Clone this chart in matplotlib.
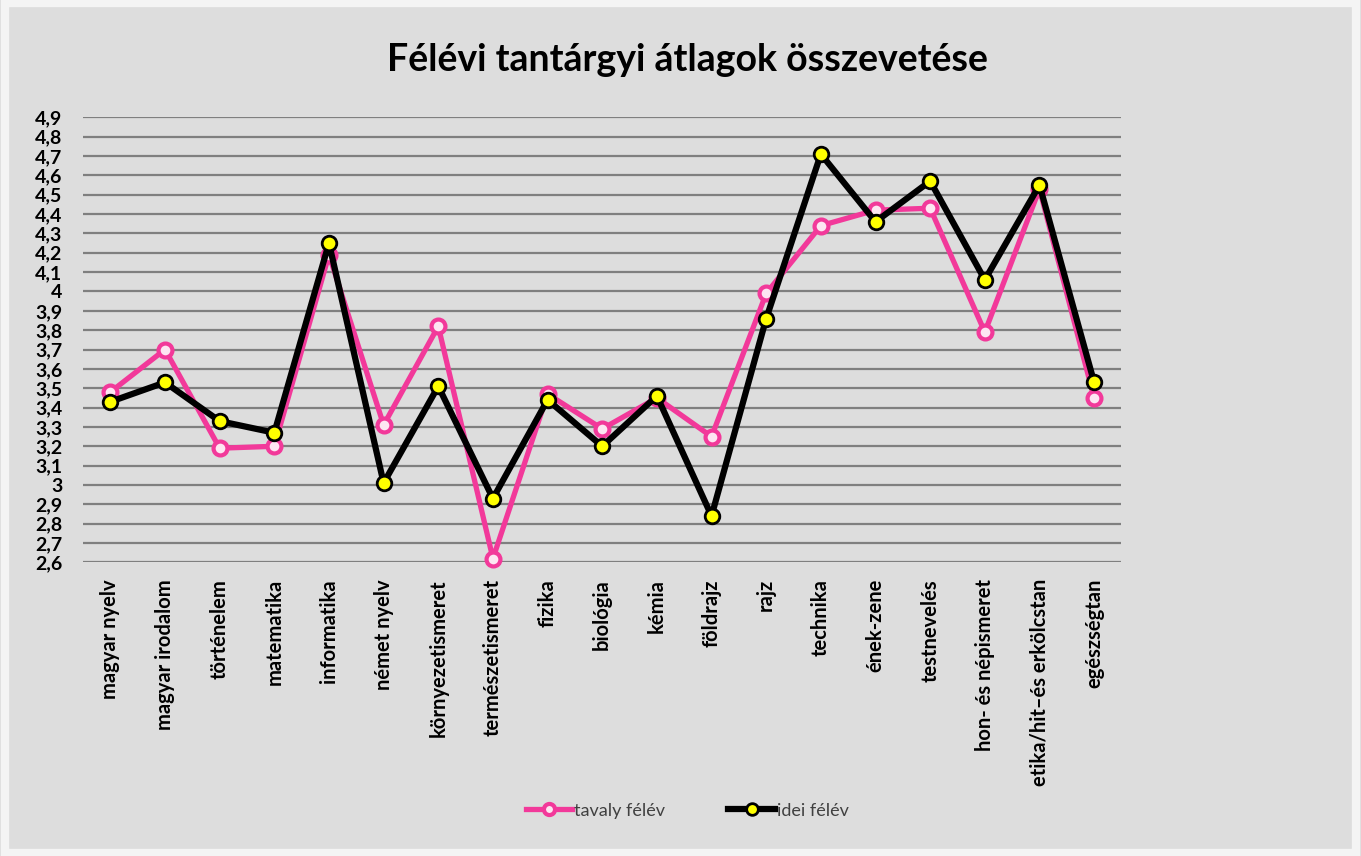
import matplotlib
matplotlib.use("Agg")
import matplotlib.pyplot as plt
import numpy as np

categories = ["magyar nyelv", "magyar irodalom", "történelem", "matematika", "informatika",
              "német nyelv", "környezetismeret", "természetismeret", "fizika", "biológia",
              "kémia", "földrajz", "rajz", "technika", "ének-zene", "testnevelés",
              "hon- és népismeret", "etika/hit–és erkölcstan", "egészségtan"]
tavaly = [3.48, 3.70, 3.19, 3.20, 4.19, 3.31, 3.82, 2.62, 3.47, 3.29,
          3.45, 3.25, 3.99, 4.34, 4.42, 4.43, 3.79, 4.53, 3.45]
idei = [3.43, 3.53, 3.33, 3.27, 4.25, 3.01, 3.51, 2.93, 3.44, 3.20,
        3.46, 2.84, 3.86, 4.71, 4.36, 4.57, 4.06, 4.55, 3.53]
yticks = [round(2.6 + 0.1 * i, 1) for i in range(24)]
ytick_labels = [("%g" % v).replace(".", ",") for v in yticks]

plt.rcParams['font.family'] = ['Lato', 'DejaVu Sans']

fig = plt.figure(figsize=(13.61, 8.56), dpi=100)
fig.patch.set_facecolor("#dddddd")
fig.add_artist(plt.Rectangle((0.004, 0.004), 0.992, 0.992, transform=fig.transFigure,
                             fill=False, edgecolor="#f4f4f4", lw=6))

ax = fig.add_axes([0.061, 0.343, 0.763, 0.52])
ax.set_facecolor("none")
x = np.arange(len(categories))
ax.set_xlim(-0.5, len(categories) - 0.5)
ax.set_ylim(2.6, 4.9)
ax.set_yticks(yticks)
ax.set_yticklabels(ytick_labels, fontsize=14, fontweight="bold")
ax.yaxis.grid(True, color="#7f7f7f", lw=1.6)
ax.set_axisbelow(True)
for s in ax.spines.values():
    s.set_visible(False)
ax.tick_params(axis="y", length=0, pad=15)
ax.tick_params(axis="x", length=0, pad=12)
ax.set_xticks(x)
ax.set_xticklabels(categories, rotation=90, fontsize=14.5, fontweight="bold", va="top")

ax.plot(x, tavaly, color="#f2399a", lw=3.8, marker="o", ms=10, mfc="#fde6f2",
        mec="#f2399a", mew=3, label="tavaly félév", zorder=3, clip_on=False)
ax.plot(x, idei, color="#000000", lw=4.5, marker="o", ms=10.5, mfc="#ffff00",
        mec="#000000", mew=2, label="idei félév", zorder=4, clip_on=False)

fig.text(0.505, 0.93, "Félévi tantárgyi átlagok összevetése", ha="center", va="center",
         fontsize=27, fontweight="bold")

leg = fig.legend(loc="center", bbox_to_anchor=(0.505, 0.053), ncol=2, frameon=False,
                 fontsize=13, handlelength=2.6, columnspacing=3.5, handletextpad=0.1,
                 markerscale=0.8)
for t in leg.get_texts():
    t.set_color("#404040")

fig.savefig("out.png", dpi=100, facecolor=fig.get_facecolor())
